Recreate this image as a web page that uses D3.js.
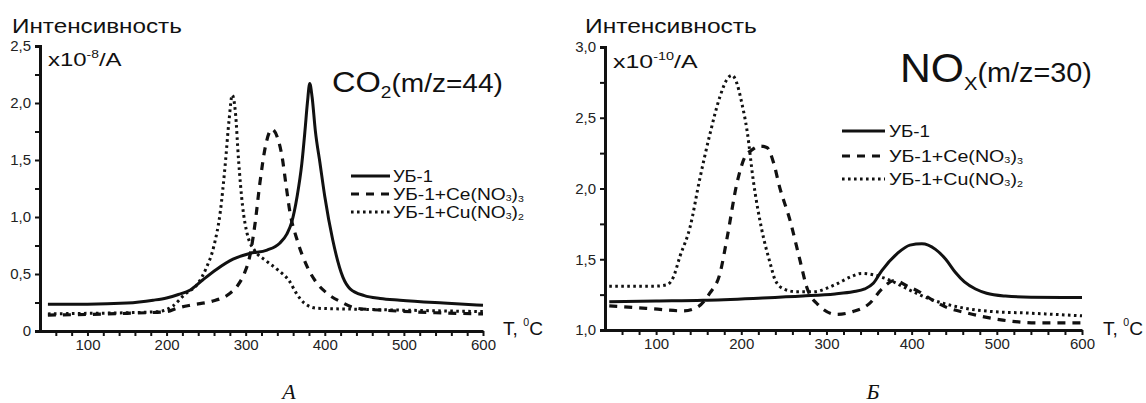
<!DOCTYPE html>
<html><head><meta charset="utf-8">
<script src="https://cdn.jsdelivr.net/npm/d3@7"></script>
<style>
html,body{margin:0;padding:0;background:#fff;}
svg{display:block;font-family:"Liberation Sans",Arial,sans-serif;}
</style></head>
<body>
<svg id="chart" width="1146" height="403"></svg>
<script>
// ---------- DATA ----------
const seriesNames = ["УБ-1", "УБ-1+Ce(NO3)3", "УБ-1+Cu(NO3)2"];
const xTickValues = d3.range(60, 601, 20);
const xTickLabels = [100, 200, 300, 400, 500, 600];
const co2YTicks = [0, 0.5, 1.0, 1.5, 2.0, 2.5];
const noxYTicks = [1.0, 1.5, 2.0, 2.5, 3.0];

// CO2 (m/z=44), intensity x10^-8 A
const co2_UB1 = [[50,0.235],[100,0.235],[150,0.245],[183,0.27],[200,0.29],[215,0.32],[230,0.36],[246,0.45],[263,0.54],[284,0.63],[305,0.68],[327,0.71],[343,0.77],[352,0.85],[358,0.95],[365,1.18],[371,1.47],[375,1.76],[378,2.0],[381,2.17],[384,2.05],[388,1.76],[394,1.47],[400,1.18],[410,0.8],[423,0.47],[432,0.37],[450,0.31],[470,0.285],[495,0.27],[550,0.245],[600,0.225]];
const co2_Ce = [[50,0.14],[100,0.145],[150,0.155],[200,0.17],[213,0.2],[233,0.23],[257,0.26],[278,0.32],[290,0.4],[298,0.5],[305,0.65],[312,0.95],[318,1.3],[325,1.62],[333,1.77],[340,1.7],[346,1.53],[351,1.28],[356,1.04],[365,0.8],[378,0.56],[390,0.42],[403,0.33],[422,0.25],[440,0.2],[480,0.18],[540,0.16],[600,0.15]];
const co2_Cu = [[50,0.15],[100,0.155],[150,0.16],[190,0.17],[208,0.22],[223,0.32],[240,0.42],[250,0.55],[260,0.75],[268,1.05],[274,1.45],[279,1.85],[283,2.07],[287,1.92],[291,1.5],[296,1.1],[302,0.85],[312,0.7],[325,0.62],[340,0.54],[355,0.44],[365,0.32],[375,0.24],[390,0.2],[450,0.19],[520,0.18],[600,0.17]];

// NOx (m/z=30), intensity x10^-10 A
const nox_UB1 = [[45,1.2],[100,1.205],[155,1.21],[220,1.225],[272,1.24],[310,1.255],[331,1.27],[345,1.29],[355,1.33],[365,1.42],[383,1.54],[398,1.6],[412,1.61],[428,1.57],[440,1.5],[451,1.41],[462,1.34],[475,1.29],[488,1.26],[510,1.24],[540,1.232],[600,1.23]];
const nox_Ce = [[45,1.17],[96,1.15],[132,1.135],[148,1.16],[163,1.26],[175,1.4],[183,1.64],[195,2.04],[204,2.22],[212,2.27],[222,2.3],[230,2.29],[238,2.18],[245,2.01],[257,1.78],[269,1.49],[277,1.3],[290,1.18],[312,1.11],[331,1.13],[351,1.19],[365,1.29],[380,1.35],[395,1.31],[409,1.27],[425,1.21],[441,1.16],[465,1.12],[507,1.07],[547,1.05],[600,1.05]];
const nox_Cu = [[45,1.31],[100,1.31],[113,1.32],[120,1.37],[128,1.52],[140,1.73],[151,2.06],[163,2.38],[175,2.65],[183,2.77],[189,2.8],[195,2.74],[200,2.62],[207,2.4],[214,2.06],[224,1.71],[234,1.47],[240,1.35],[250,1.29],[265,1.27],[284,1.27],[310,1.32],[330,1.38],[341,1.4],[355,1.39],[375,1.35],[395,1.29],[421,1.22],[457,1.16],[495,1.13],[535,1.12],[600,1.1]];

// ---------- DRAWING ----------
const svg = d3.select("#chart");
const INK = "#111";
const styles = [
  {dash: null, width: 3},
  {dash: "8 7", width: 3.2},
  {dash: "2.6 3.4", width: 3}
];

function fmt(d){ return d === 0 ? "0" : d.toFixed(1).replace(".", ","); }

// text with parts, stretched horizontally to a target width
function richText(x, y, parts, targetW){
  const g = svg.append("g");
  const t = g.append("text").attr("x", 0).attr("y", 0).attr("fill", INK);
  parts.forEach(p => {
    const ts = t.append("tspan").text(p.t).attr("font-size", p.size);
    if (p.dy) ts.attr("dy", p.dy);
  });
  const w = t.node().getBBox().width;
  const k = targetW ? targetW / w : 1;
  g.attr("transform", `translate(${x},${y}) scale(${k},1)`);
  return g;
}

function panel(cfg){
  const x = d3.scaleLinear().domain([40, 600]).range(cfg.xr);
  const y = d3.scaleLinear().domain(cfg.yd).range(cfg.yr);

  // x axis
  const xa = svg.append("g").attr("transform", `translate(0,${cfg.yr[0]})`)
    .call(d3.axisBottom(x).tickValues(xTickValues)
      .tickFormat(d => xTickLabels.includes(d) ? d : "")
      .tickSize(5).tickSizeOuter(0).tickPadding(3));
  xa.select(".domain").attr("stroke", INK).attr("stroke-width", 3);
  xa.selectAll(".tick line").attr("stroke", INK).attr("stroke-width", 2);
  xa.selectAll(".tick text").attr("font-size", 15).attr("fill", "#222")
    .attr("font-family", "'Liberation Sans',Arial,sans-serif");

  // y axis
  const yMinor = d3.range(cfg.yd[0], cfg.yd[1] + 0.001, 0.25);
  const ya = svg.append("g").attr("transform", `translate(${cfg.xr[0]},0)`)
    .call(d3.axisLeft(y).tickValues(yMinor)
      .tickFormat(d => cfg.yTicks.some(v => Math.abs(v - d) < 1e-9) ? fmt(d) : "")
      .tickSize(5).tickSizeOuter(5).tickPadding(4));
  ya.select(".domain").attr("stroke", INK).attr("stroke-width", 3);
  ya.selectAll(".tick line").attr("stroke", INK).attr("stroke-width", 2);
  ya.selectAll(".tick text").attr("font-size", 15).attr("fill", "#222")
    .attr("font-family", "'Liberation Sans',Arial,sans-serif");

  // curves
  const line = d3.line().x(d => x(d[0])).y(d => y(d[1])).curve(d3.curveMonotoneX);
  cfg.series.forEach((s, i) => {
    svg.append("path").datum(s).attr("d", line)
      .attr("fill", "none").attr("stroke", INK)
      .attr("stroke-width", styles[i].width)
      .attr("stroke-dasharray", styles[i].dash);
  });

  // legend
  const L = cfg.legend;
  seriesNames.forEach((name, i) => {
    svg.append("line").attr("x1", L.x1).attr("x2", L.x2)
      .attr("y1", L.ys[i]).attr("y2", L.ys[i])
      .attr("stroke", INK).attr("stroke-width", styles[i].width)
      .attr("stroke-dasharray", styles[i].dash);
    let parts;
    if (i === 0) parts = [{t: "УБ-1", size: L.fs}];
    else {
      const m = name.match(/^(.*\(NO)3\)(\d)$/);
      parts = [{t: m[1], size: L.fs}, {t: "3", size: L.fs * 0.55, dy: 1},
               {t: ")", size: L.fs, dy: -1}, {t: m[2], size: L.fs * 0.55, dy: 2}];
    }
    richText(L.tx, L.ys[i] + 6, parts, L.widths[i]);
  });
}

panel({
  xr: [40, 483], yd: [0, 2.5], yr: [331, 46], yTicks: co2YTicks,
  series: [co2_UB1, co2_Ce, co2_Cu],
  legend: {x1: 351, x2: 390, ys: [176, 194, 212], tx: 393, fs: 16, widths: [40, 131, 131]}
});
panel({
  xr: [605, 1082], yd: [1, 3], yr: [330, 47], yTicks: noxYTicks,
  series: [nox_UB1, nox_Ce, nox_Cu],
  legend: {x1: 842, x2: 885, ys: [131, 156, 179], tx: 889, fs: 17, widths: [41, 134, 134]}
});

// titles
richText(12, 33, [{t: "Интенсивность", size: 20}], 170);
richText(585, 33, [{t: "Интенсивность", size: 20}], 172);
richText(48, 66, [{t: "x10", size: 19}, {t: "-8", size: 11, dy: -8}, {t: "/A", size: 19, dy: 8}], 74);
richText(613, 68, [{t: "x10", size: 19}, {t: "-10", size: 11, dy: -8}, {t: "/A", size: 19, dy: 8}], 85);
richText(332, 92, [{t: "CO", size: 29}, {t: "2", size: 17, dy: 6}, {t: "(m/z=44)", size: 25, dy: -6}], 171);
richText(900, 82, [{t: "NO", size: 40}, {t: "X", size: 19, dy: 8}, {t: "(m/z=30)", size: 27, dy: -8}], 192);
richText(503, 335, [{t: "T, ", size: 18}, {t: "0", size: 10, dy: -9}, {t: "C", size: 18, dy: 9}], 40);
richText(1103, 335, [{t: "T, ", size: 18}, {t: "0", size: 10, dy: -9}, {t: "C", size: 18, dy: 9}], 40);

// panel captions
svg.append("text").attr("x", 289).attr("y", 399).attr("text-anchor", "middle")
  .attr("font-family", "'Liberation Serif','Times New Roman',serif").attr("font-style", "italic")
  .attr("font-size", 22).attr("fill", INK).text("А");
svg.append("text").attr("x", 873).attr("y", 399).attr("text-anchor", "middle")
  .attr("font-family", "'Liberation Serif','Times New Roman',serif").attr("font-style", "italic")
  .attr("font-size", 22).attr("fill", INK).text("Б");
</script>
</body></html>
